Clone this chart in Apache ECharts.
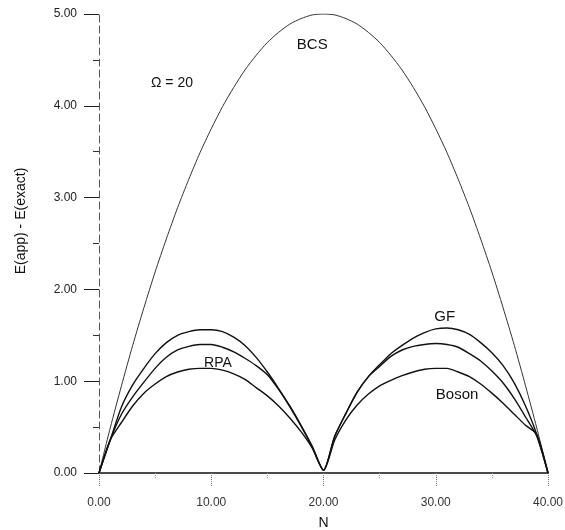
<!DOCTYPE html>
<html>
<head>
<meta charset="utf-8">
<script src="https://cdn.jsdelivr.net/npm/echarts@6/dist/echarts.min.js"></script>
<style>
  html, body { margin: 0; padding: 0; background: #fff; }
  #chart { width: 565px; height: 530px; }
</style>
</head>
<body>
<div id="chart"></div>
<script>
// particle number N
const nValues = [0, 1, 2, 3, 4, 5, 6, 7, 8, 9, 10, 11, 12, 13, 14, 15, 16, 17, 18, 19, 20,
    21, 22, 23, 24, 25, 26, 27, 28, 29, 30, 31, 32, 33, 34, 35, 36, 37, 38, 39, 40];

// E(app) - E(exact)
const bcs = [0, 0.49, 0.95, 1.39, 1.80, 2.19, 2.55, 2.89, 3.20, 3.49, 3.75, 3.99, 4.20, 4.39, 4.55, 4.69, 4.80, 4.89, 4.95, 4.99, 5.00,
    4.99, 4.95, 4.89, 4.80, 4.69, 4.55, 4.39, 4.20, 3.99, 3.75, 3.49, 3.20, 2.89, 2.55, 2.19, 1.80, 1.39, 0.95, 0.49, 0];
const gf = [0, 0.36, 0.72, 0.96, 1.14, 1.30, 1.42, 1.50, 1.54, 1.56, 1.56, 1.54, 1.48, 1.39, 1.26, 1.10, 0.92, 0.73, 0.52, 0.29, 0.03,
    0.40, 0.65, 0.88, 1.05, 1.18, 1.30, 1.39, 1.47, 1.53, 1.57, 1.58, 1.56, 1.51, 1.42, 1.31, 1.17, 0.98, 0.73, 0.42, 0];
const rpa = [0, 0.36, 0.64, 0.83, 0.99, 1.14, 1.26, 1.34, 1.38, 1.40, 1.40, 1.37, 1.32, 1.25, 1.17, 1.07, 0.91, 0.72, 0.51, 0.28, 0.03,
    0.40, 0.65, 0.88, 1.05, 1.16, 1.27, 1.34, 1.38, 1.40, 1.41, 1.40, 1.37, 1.30, 1.22, 1.11, 0.98, 0.81, 0.61, 0.40, 0];
const boson = [0, 0.36, 0.55, 0.73, 0.87, 0.97, 1.05, 1.10, 1.13, 1.14, 1.14, 1.12, 1.08, 1.02, 0.93, 0.84, 0.73, 0.60, 0.45, 0.27, 0.03,
    0.36, 0.58, 0.74, 0.86, 0.95, 1.01, 1.06, 1.10, 1.13, 1.14, 1.14, 1.10, 1.05, 0.97, 0.87, 0.76, 0.64, 0.52, 0.42, 0];

const xTicks = ["0.00", "10.00", "20.00", "30.00", "40.00"];
const yTicks = ["0.00", "1.00", "2.00", "3.00", "4.00", "5.00"];

// in-plot annotations, in data coordinates
const notes = [
    { text: "BCS", n: 19.0, e: 4.66, size: 15 },
    { text: "\u03a9 = 20", n: 6.5, e: 4.25, size: 14 },
    { text: "GF", n: 30.8, e: 1.70, size: 15 },
    { text: "RPA", n: 10.6, e: 1.20, size: 14 },
    { text: "Boson", n: 31.9, e: 0.85, size: 15 },
];

const FONT = "Liberation Sans, Arial, sans-serif";

function pairs(ys) {
    return nValues.map((n, i) => [n, ys[i]]);
}

function line(name, ys, color, width) {
    return {
        name: name,
        type: "line",
        data: pairs(ys),
        showSymbol: false,
        smooth: 0.25,
        lineStyle: { color: color, width: width },
        z: 3,
    };
}

const chart = echarts.init(document.getElementById("chart"), null, { renderer: "canvas" });

chart.setOption({
    animation: false,
    backgroundColor: "#fff",
    grid: { left: 99, right: 17, top: 14, bottom: 57, containLabel: false, outerBoundsMode: "none" },
    xAxis: {
        type: "value",
        min: 0,
        max: 40,
        interval: 10,
        name: "N",
        nameLocation: "middle",
        nameGap: 43,
        nameTextStyle: { fontFamily: FONT, fontSize: 14, color: "#111" },
        axisLine: { lineStyle: { color: "#111", width: 1.5 } },
        axisTick: { show: true, length: 13, lineStyle: { color: "#777", type: "dotted" } },
        minorTick: { show: true, splitNumber: 2, length: 6, lineStyle: { color: "#999", type: "dotted" } },
        splitLine: { show: false },
        axisLabel: {
            margin: 24,
            fontFamily: FONT,
            fontSize: 12,
            color: "#333",
            formatter: (v) => xTicks[v / 10],
        },
    },
    yAxis: {
        type: "value",
        min: 0,
        max: 5,
        interval: 1,
        axisLine: { lineStyle: { color: "#555", width: 1, type: [7, 4] } },
        axisTick: { show: true, length: 15, lineStyle: { color: "#222" } },
        minorTick: { show: true, splitNumber: 2, length: 6, lineStyle: { color: "#333" } },
        splitLine: { show: false },
        axisLabel: {
            margin: 22,
            fontFamily: FONT,
            fontSize: 12,
            color: "#222",
            formatter: (v) => yTicks[v],
        },
    },
    series: [
        line("BCS", bcs, "#333", 1),
        line("GF", gf, "#111", 1.4),
        line("RPA", rpa, "#111", 1.4),
        line("Boson", boson, "#111", 1.4),
    ],
});

const graphics = notes.map((t) => {
    const [px, py] = chart.convertToPixel({ gridIndex: 0 }, [t.n, t.e]);
    return {
        type: "text",
        x: px,
        y: py,
        style: {
            text: t.text,
            fill: "#111",
            font: `${t.size}px ${FONT}`,
            textAlign: "center",
            textVerticalAlign: "middle",
        },
    };
});

graphics.push({
    type: "text",
    x: 21,
    y: 221,
    rotation: Math.PI / 2,
    style: {
        text: "E(app) - E(exact)",
        fill: "#111",
        font: `14px ${FONT}`,
        textAlign: "center",
        textVerticalAlign: "middle",
    },
});

chart.setOption({ graphic: graphics });
</script>
</body>
</html>
